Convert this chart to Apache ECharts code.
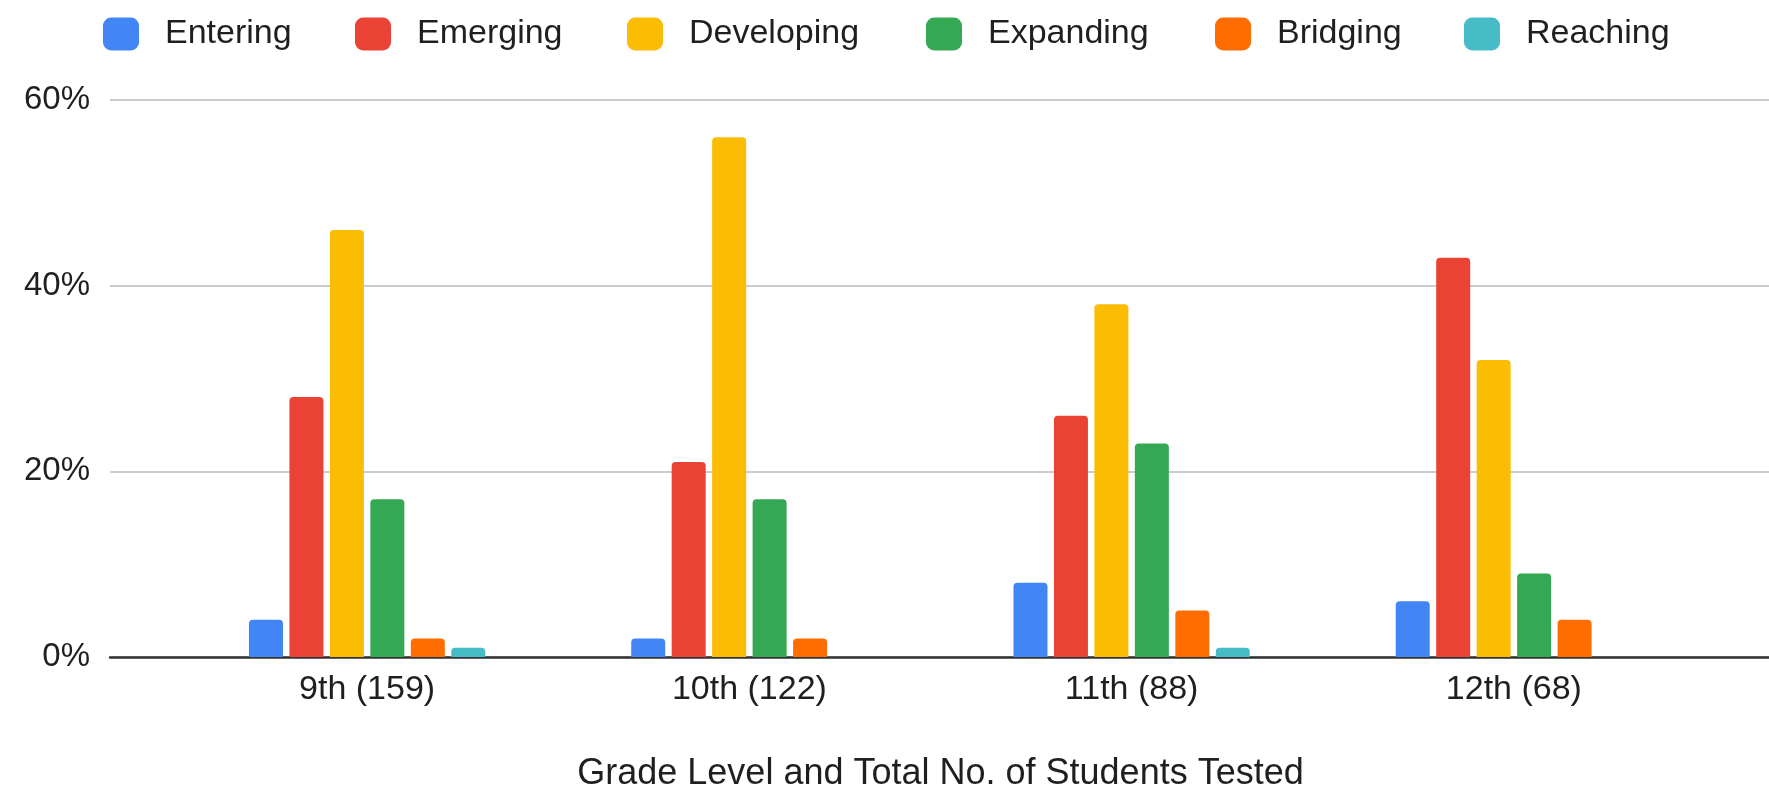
<!DOCTYPE html>
<html>
<head>
<meta charset="utf-8">
<script src="https://cdn.jsdelivr.net/npm/echarts@6/dist/echarts.min.js"></script>
<style>
html,body{margin:0;padding:0;background:#fff;}
#c{width:1769px;height:787px;}
</style>
</head>
<body>
<div id="c"></div>
<script>
const categories = ['9th (159)', '10th (122)', '11th (88)', '12th (68)'];
const seriesNames = ['Entering', 'Emerging', 'Developing', 'Expanding', 'Bridging', 'Reaching'];
const entering   = [4, 2, 8, 6];
const emerging   = [28, 21, 26, 43];
const developing = [46, 56, 38, 32];
const expanding  = [17, 17, 23, 9];
const bridging   = [2, 2, 5, 4];
const reaching   = [1, 0, 1, 0];
const yTicks = [0, 20, 40, 60];
const axisTitle = 'Grade Level and Total No. of Students Tested';

const values = [entering, emerging, developing, expanding, bridging, reaching];
const colors = ['#4285F4', '#EA4335', '#FBBC04', '#34A853', '#FF6D01', '#46BDC6'];
const legendLeft = [103, 355, 627, 926, 1215, 1464];
const FONT = '"Liberation Sans", Arial, sans-serif';

const chart = echarts.init(document.getElementById('c'));

const legends = seriesNames.map((n, i) => ({
  data: [n],
  left: legendLeft[i],
  top: 17,
  padding: 0,
  orient: 'horizontal',
  icon: 'roundRect',
  itemWidth: 36,
  itemHeight: 33,
  selectedMode: false,
  textStyle: { fontFamily: FONT, fontSize: 34, color: '#1f1f1f', padding: [0, 0, 0, 21] }
}));

const option = {
  backgroundColor: '#fff',
  animation: false,
  legend: legends,
  grid: [
    { left: 110, right: 0, top: 100, bottom: 130, containLabel: false, outerBoundsMode: 'none' },
    { left: 176, right: 64, top: 100, bottom: 130, containLabel: false, outerBoundsMode: 'none' }
  ],
  xAxis: [
    {
      gridIndex: 0, type: 'value', min: 0, max: 1,
      axisLine: { show: true, onZero: false, lineStyle: { color: '#333', width: 2.5 } },
      axisTick: { show: false }, axisLabel: { show: false }, splitLine: { show: false }
    },
    {
      gridIndex: 1, type: 'category', data: categories,
      axisLine: { show: false }, axisTick: { show: false },
      axisLabel: { fontFamily: FONT, fontSize: 34, color: '#1f1f1f', margin: 16 },
      name: axisTitle, nameLocation: 'middle', nameGap: 99,
      nameTextStyle: { fontFamily: FONT, fontSize: 36, color: '#1f1f1f' }
    }
  ],
  yAxis: [
    {
      gridIndex: 0, type: 'value', min: yTicks[0], max: yTicks[yTicks.length - 1], interval: 20,
      axisLine: { show: false }, axisTick: { show: false },
      axisLabel: { fontFamily: FONT, fontSize: 33, color: '#1f1f1f', margin: 20, formatter: '{value}%' },
      splitLine: { lineStyle: { color: '#cccccc', width: 2 } }
    },
    {
      gridIndex: 1, type: 'value', min: yTicks[0], max: yTicks[yTicks.length - 1], interval: 20,
      show: false, splitLine: { show: false }
    }
  ],
  series: seriesNames.map((n, i) => ({
    name: n,
    type: 'bar',
    xAxisIndex: 1,
    yAxisIndex: 1,
    data: values[i],
    barWidth: 34,
    barGap: '19%',
    itemStyle: { color: colors[i], borderRadius: [4, 4, 0, 0] },
    z: 3
  }))
};
chart.setOption(option);
</script>
</body>
</html>
